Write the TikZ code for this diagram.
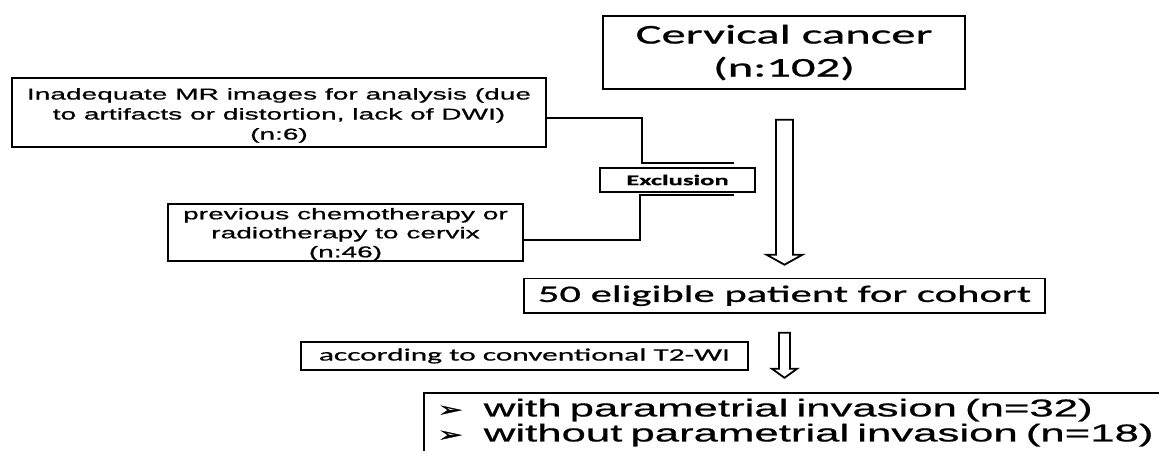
\documentclass[tikz,border=0pt]{standalone}
\usepackage{fontspec}
\usetikzlibrary{calc}
\newfontfamily\calS[FakeStretch=1.8,FakeBold=0.8]{Carlito}
\newfontfamily\arS[FakeStretch=1.8,FakeBold=0.8]{Liberation Sans}
\newfontfamily\bulS[FakeStretch=1.5,FakeBold=1.5]{DejaVu Sans}
\newcommand\lowr[2]{\raisebox{-#1}[\height][\depth]{#2}}
\newcommand\bul{\makebox[46pt][l]{\bulS\fontsize{20}{25}\selectfont ➢}}
\begin{document}
\begin{tikzpicture}[x=1pt,y=-1pt,
  box/.style={draw, line width=1.6pt, inner sep=0pt, align=center},
  conn/.style={line width=1.8pt},
  harrow/.style={line width=1.8pt, line join=miter}]
\useasboundingbox (0,0) rectangle (1159,450);

\node[box, minimum width=362pt, minimum height=73pt,
  font=\calS\fontsize{27}{33}\selectfont] (cc) at (784,52.5) {Cervical cancer\\(n:102)};

\node[box, minimum width=534pt, minimum height=69pt,
  font=\arS\fontsize{15.6}{20}\selectfont] (ina) at (279,112.5)
  {\lowr{3pt}{\begin{tabular}{@{}c@{}}Inadequate MR images for analysis (due\\to artifacts or distortion, lack of DWI)\\(n:6)\end{tabular}}};

\node[box, minimum width=355pt, minimum height=55pt,
  font=\arS\fontsize{15.6}{19}\selectfont] (prev) at (345.5,232.5)
  {\lowr{2pt}{\begin{tabular}{@{}c@{}}previous chemotherapy or\\radiotherapy to cervix\\(n:46)\end{tabular}}};

\node[box, line width=2.2pt, minimum width=155pt, minimum height=24pt,
  font=\calS\bfseries\fontsize{14.8}{16}\selectfont] (excl) at (677.5,180) {Exclusion};

\node[box, minimum width=521pt, minimum height=34.5pt,
  font=\calS\fontsize{23.7}{28}\selectfont] (elig) at (784.5,295.75) {50 eligible patient for cohort};

\node[box, minimum width=447pt, minimum height=28.5pt,
  font=\calS\fontsize{17.4}{21}\selectfont] (t2) at (524.5,356) {according to conventional T2-WI};

\node[draw, line width=1.6pt, anchor=north west, inner xsep=14pt, inner ysep=6pt,
  text width=760pt, align=left, text depth=45pt,
  font=\arS\fontsize{24.3}{25}\selectfont] (res) at (423,392)
  {\bul with parametrial invasion (n=32)\\
   \bul without parametrial invasion (n=18)};

% hollow arrows
\coordinate (a1top) at ($(cc.south)+(0.5,30)$);
\coordinate (a1tip) at ($(elig.north)+(0,-13)$);
\draw[harrow] ($(a1top)+(-8.5,0)$) -- ($(a1tip)+(-8.5,-10)$) -- ($(a1tip)+(-18,-10)$)
  -- (a1tip) -- ($(a1tip)+(18,-10)$) -- ($(a1tip)+(8.5,-10)$) -- ($(a1top)+(8.5,0)$) -- cycle;

\coordinate (a2top) at ($(elig.south)+(0,19)$);
\coordinate (a2tip) at ($(elig.south)+(0,64)$);
\draw[harrow] ($(a2top)+(-5.5,0)$) -- ($(a2tip)+(-5.5,-9)$) -- ($(a2tip)+(-12.5,-9)$)
  -- (a2tip) -- ($(a2tip)+(12.5,-9)$) -- ($(a2tip)+(5.5,-9)$) -- ($(a2top)+(5.5,0)$) -- cycle;

% exclusion connectors
\coordinate (exT) at ($(excl.north east)+(-22,-4)$);
\coordinate (exB) at ($(excl.south east)+(-22,2)$);
\draw[conn] ([yshift=-5.5pt]ina.east) -| ($(exT)+(-92,0)$) -- (exT);
\draw[conn] ([yshift=-7.5pt]prev.east) -| ($(exB)+(-94,0)$) -- (exB);
\end{tikzpicture}
\end{document}
